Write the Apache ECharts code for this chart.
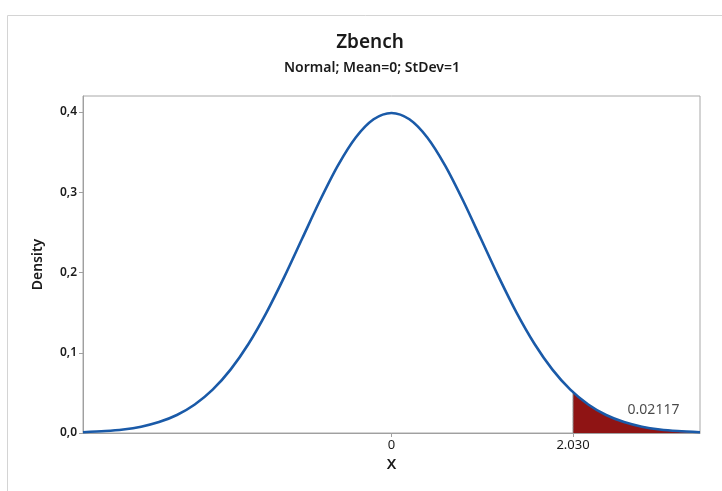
<!DOCTYPE html>
<html>
<head>
<meta charset="utf-8">
<script src="https://cdn.jsdelivr.net/npm/echarts@6/dist/echarts.min.js"></script>
<style>
  html, body { margin: 0; padding: 0; background: #fff; }
  #chart { width: 722px; height: 491px; }
</style>
</head>
<body>
<div id="chart"></div>
<script>
// density curve (x, density)
var xValues = [-3.45, -3.2, -3.0, -2.8, -2.6, -2.4, -2.2, -2.0, -1.8, -1.6, -1.4, -1.2, -1.0, -0.8, -0.6, -0.4, -0.2,
  0, 0.2, 0.4, 0.6, 0.8, 1.0, 1.2, 1.4, 1.6, 1.8, 2.0, 2.2, 2.4, 2.6, 2.8, 3.0, 3.2, 3.45];
var density = [0.0010, 0.0024, 0.0044, 0.0079, 0.0136, 0.0224, 0.0355, 0.0540, 0.0790, 0.1109, 0.1497, 0.1942, 0.2420, 0.2897, 0.3332, 0.3683, 0.3910,
  0.3989, 0.3910, 0.3683, 0.3332, 0.2897, 0.2420, 0.1942, 0.1497, 0.1109, 0.0790, 0.0540, 0.0355, 0.0224, 0.0136, 0.0079, 0.0044, 0.0024, 0.0010];

// shaded upper tail
var tailX = [2.03, 2.2, 2.4, 2.6, 2.8, 3.0, 3.2, 3.45];
var tailY = [0.0508, 0.0355, 0.0224, 0.0136, 0.0079, 0.0044, 0.0024, 0.0010];
var tailArea = '0.02117';
var tailLabelAt = [2.93, 0.0195];

var xTicks = [0, 2.03];
var yTicks = [0, 0.1, 0.2, 0.3, 0.4];

var curve = xValues.map(function (x, i) { return [x, density[i]]; });
var tail = tailX.map(function (x, i) { return [x, tailY[i]]; });

var font = '"Noto Sans", "Open Sans", sans-serif';

var chart = echarts.init(document.getElementById('chart'));
chart.setOption({
  animation: false,
  graphic: [
    {
      type: 'rect', silent: true, z: -10,
      shape: { x: 7.5, y: 15.5, width: 800, height: 600 },
      style: { fill: 'none', stroke: '#d4d4d4', lineWidth: 1 }
    },
    {
      type: 'text', x: 370, y: 33,
      style: { text: 'Zbench', font: '600 19px ' + font, fill: '#1a1a1a', textAlign: 'center', textVerticalAlign: 'top' }
    },
    {
      type: 'text', x: 372, y: 61,
      style: { text: 'Normal; Mean=0; StDev=1', font: '600 14px ' + font, fill: '#1a1a1a', textAlign: 'center', textVerticalAlign: 'top' }
    }
  ],
  grid: {
    left: 83, top: 96, right: 22, bottom: 58,
    show: true, borderColor: '#a8a8a8', borderWidth: 1
  },
  xAxis: {
    type: 'value', min: -3.45, max: 3.45,
    name: 'X', nameLocation: 'middle', nameGap: 24,
    nameTextStyle: { fontFamily: font, fontWeight: 600, fontSize: 15, color: '#1a1a1a' },
    axisLine: { show: true, onZero: false, lineStyle: { color: '#a0a0a0' } },
    axisTick: { show: true, customValues: xTicks, length: 4, lineStyle: { color: '#a0a0a0' } },
    axisLabel: {
      customValues: xTicks, margin: 6,
      fontFamily: font, fontSize: 13, color: '#1a1a1a',
      formatter: function (v) { return v === 0 ? '0' : v.toFixed(3); }
    },
    splitLine: { show: false }
  },
  yAxis: {
    type: 'value', min: 0, max: 0.42,
    name: 'Density', nameLocation: 'middle', nameGap: 38,
    nameTextStyle: { fontFamily: font, fontWeight: 600, fontSize: 14, color: '#1a1a1a' },
    axisLine: { show: true, onZero: false, lineStyle: { color: '#a0a0a0' } },
    axisTick: { show: true, customValues: yTicks, length: 4, lineStyle: { color: '#a0a0a0' } },
    axisLabel: {
      customValues: yTicks, margin: 6,
      fontFamily: font, fontSize: 12, fontWeight: 600, color: '#1a1a1a',
      formatter: function (v) { return v.toFixed(1).replace('.', ','); }
    },
    splitLine: { show: false }
  },
  series: [
    {
      type: 'line', data: [[2.03, 0]].concat(tail), smooth: 0.3,
      showSymbol: false, z: 1,
      lineStyle: { color: '#8c8c8c', width: 1 },
      areaStyle: { color: '#8f1414', opacity: 1 }
    },
    {
      type: 'line', data: curve, smooth: 0.3,
      showSymbol: false, z: 3,
      lineStyle: { color: '#1a5aa8', width: 2.6 }
    },
    {
      type: 'scatter', data: [tailLabelAt], symbol: 'circle', symbolSize: 1, z: 4, silent: true,
      itemStyle: { color: 'rgba(0,0,0,0)' },
      label: {
        show: true, position: 'top', distance: 0, formatter: tailArea,
        fontFamily: font, fontSize: 14, color: '#1a1a1a', textBorderWidth: 0
      }
    }
  ]
});
</script>
</body>
</html>
